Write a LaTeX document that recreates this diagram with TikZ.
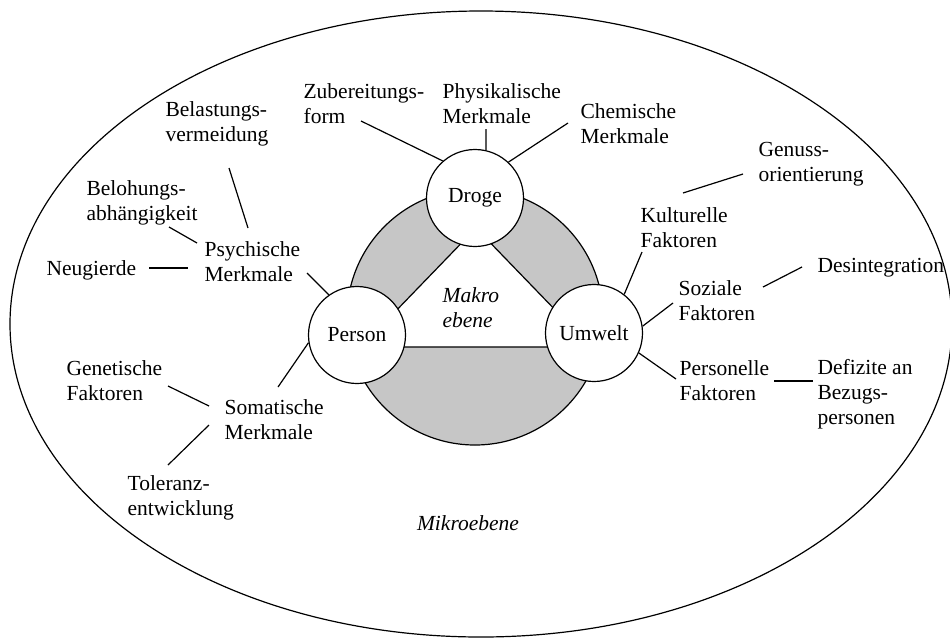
\documentclass[tikz,border=0pt]{standalone}
\usepackage{fontspec}
\setmainfont{Liberation Serif}
\begin{document}
\begin{tikzpicture}[x=1pt,y=-1pt,line width=1.2pt,
  txt/.style={font=\fontsize{21.5}{25}\selectfont},
  lbl/.style={txt,anchor=west,align=left,inner sep=0pt},
  hub/.style={txt,circle,draw,fill=white,minimum size=97pt,inner sep=0pt},
  conn/.style={line width=1.2pt}]
\useasboundingbox (0,0) rectangle (950,638);

% outer ellipse (micro level)
\draw (481,324) ellipse [x radius=471, y radius=313];

% macro level: grey ring, white triangle, three circles
\draw[fill=gray!45] (475,317) circle [radius=128];
\draw[fill=white] (476,228) -- (361,347) -- (591,347) -- cycle;
\node[hub] (droge) at (475,198) {Droge};
\node[hub] (person) at (357,335) {Person};
\node[hub] (umwelt) at (594,333) {Umwelt};
\node[lbl,font=\fontsize{21.5}{25}\selectfont\itshape] (makro) at (442,308) {Makro\\ebene};
\node[txt,font=\fontsize{21.5}{25}\selectfont\itshape] (mikro) at (468,523) {Mikroebene};

% labels
\node[lbl] (zub) at (303,104) {Zubereitungs-\\form};
\node[lbl] (phys) at (442,104) {Physikalische\\Merkmale};
\node[lbl] (chem) at (580,124) {Chemische\\Merkmale};
\node[lbl] (belast) at (165,124) {Belastungs-\\vermeidung};
\node[lbl] (belohn) at (86,203) {Belohungs-\\abhängigkeit};
\node[lbl] (psych) at (204,262) {Psychische\\Merkmale};
\node[lbl] (neug) at (46,270) {Neugierde};
\node[lbl] (genet) at (66,381) {Genetische\\Faktoren};
\node[lbl] (somat) at (224,420) {Somatische\\Merkmale};
\node[lbl] (toler) at (127,498) {Toleranz-\\entwicklung};
\node[lbl] (genuss) at (758,164) {Genuss-\\orientierung};
\node[lbl] (kult) at (640,228) {Kulturelle\\Faktoren};
\node[lbl] (soz) at (678,301) {Soziale\\Faktoren};
\node[lbl] (desint) at (817,268) {Desintegration};
\node[lbl] (pers) at (679,381) {Personelle\\Faktoren};
\node[lbl] (defiz) at (817,394) {Defizite an\\Bezugs-\\personen};

% connector ends
\coordinate (zubE) at (361,121);
\coordinate (physE) at (486,129);
\coordinate (chemE) at (568,123);
\coordinate (psychE) at (307,273);
\coordinate (somatE) at (278,387);
\coordinate (kultE) at (642,252);
\coordinate (sozE) at (673,303);
\coordinate (persE) at (676,379);
\coordinate (genA) at (683,193);   \coordinate (genB) at (743,174);
\coordinate (desA) at (763,287);   \coordinate (desB) at (802,267);
\coordinate (defA) at (774,381);   \coordinate (defB) at (813,381);
\coordinate (belA) at (229,168);   \coordinate (belB) at (248,228);
\coordinate (bohA) at (169,227);   \coordinate (bohB) at (197,243);
\coordinate (neuA) at (149,268);   \coordinate (neuB) at (188,268);
\coordinate (genetA) at (168,386); \coordinate (genetB) at (209,406);
\coordinate (tolA) at (209,425);   \coordinate (tolB) at (168,465);

% connectors
\draw[conn] (zubE) -- (droge.131);
\draw[conn] (physE) -- (droge.77);
\draw[conn] (chemE) -- (droge.47);
\draw[conn] (psychE) -- (person.125);
\draw[conn] (person.189) -- (somatE);
\draw[conn] (kultE) -- (umwelt.52);
\draw[conn] (sozE) -- (umwelt.8);
\draw[conn] (umwelt.-24) -- (persE);
\draw[conn] (genA) -- (genB);
\draw[conn] (desA) -- (desB);
\draw[conn] (defA) -- (defB);
\draw[conn] (belA) -- (belB);
\draw[conn] (bohA) -- (bohB);
\draw[conn] (neuA) -- (neuB);
\draw[conn] (genetA) -- (genetB);
\draw[conn] (tolA) -- (tolB);
\end{tikzpicture}
\end{document}
